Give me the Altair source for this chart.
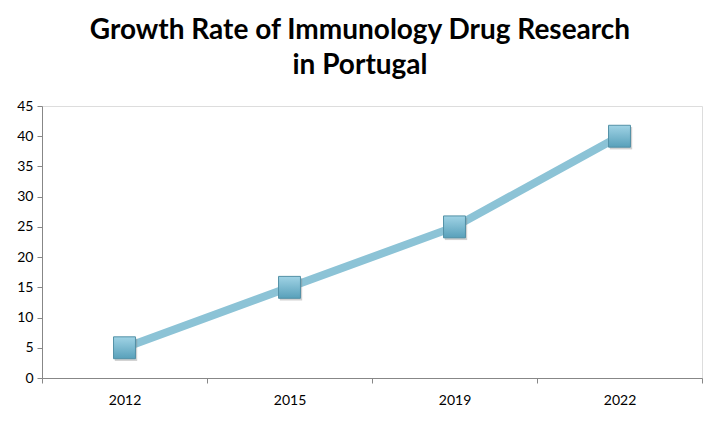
import altair as alt
import pandas as pd

years = ["2012", "2015", "2019", "2022"]
growth = [5, 15, 25, 40]

df = pd.DataFrame({"Year": years, "Growth": growth})

x_enc = alt.X("Year:N", sort=years,
              scale=alt.Scale(type="band", paddingInner=0, paddingOuter=0),
              axis=alt.Axis(title=None, labelAngle=0, tickBand="extent", tickSize=5,
                            labelPadding=10, labelFontSize=14, labelColor="#000000",
                            domainColor="#878787", tickColor="#878787", labelFont="Lato"))
y_enc = alt.Y("Growth:Q",
              scale=alt.Scale(domain=[0, 45], nice=False),
              axis=alt.Axis(title=None, values=list(range(0, 50, 5)), tickSize=5,
                            labelPadding=4, labelFontSize=14, labelColor="#000000",
                            domainColor="#878787", tickColor="#878787", grid=False,
                            labelFont="Lato"))

line = alt.Chart(df).mark_line(color="#8cc3d6", strokeWidth=8).encode(x=x_enc, y=y_enc)

shadow = alt.Chart(df).mark_point(shape="square", size=500, filled=True, color="#7a7a7a",
                                  opacity=0.35, xOffset=1.5, yOffset=2).encode(x=x_enc, y=y_enc)

marker = alt.Chart(df).mark_point(
    shape="square", size=480, filled=True, opacity=1,
    fill=alt.Gradient(gradient="linear", x1=0, y1=0, x2=0, y2=1,
                      stops=[alt.GradientStop(offset=0, color="#a0d3e5"),
                             alt.GradientStop(offset=1, color="#58a0ba")]),
    stroke="#5290a6", strokeWidth=1).encode(x=x_enc, y=y_enc)

chart = alt.layer(line, shadow, marker).properties(
    width=660, height=272,
    title=alt.TitleParams(
        text=["Growth Rate of Immunology Drug Research", "in Portugal"],
        font="Lato", fontSize=28, fontWeight="bold", color="#000000",
        lineHeight=35, anchor="middle", offset=19, dx=-12),
    autosize=alt.AutoSizeParams(type="none"),
    padding={"left": 34, "top": 98, "right": 11, "bottom": 35},
).configure_view(stroke=None).configure(background="white")

chart.save("out.html", embed_options={"renderer": "svg", "actions": False})
